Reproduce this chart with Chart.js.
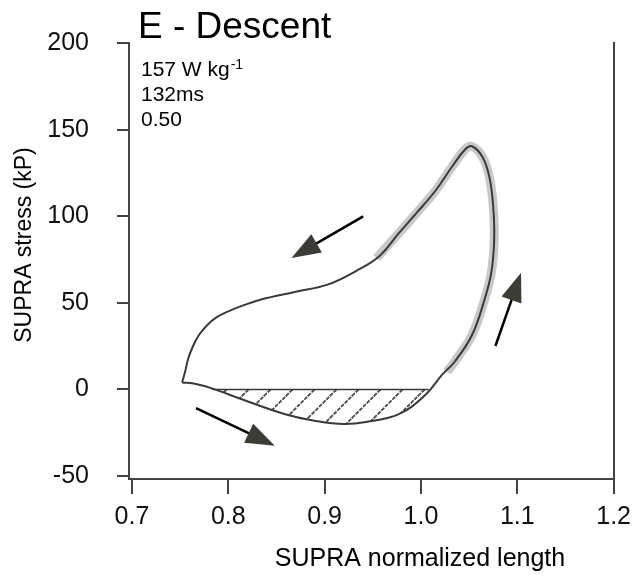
<!DOCTYPE html>
<html>
<head>
<meta charset="utf-8">
<script src="https://cdn.jsdelivr.net/npm/chart.js@4.4.0/dist/chart.umd.min.js"></script>
<style>
    html, body { margin: 0; padding: 0; background: #fff; }
</style>
</head>
<body>
<canvas id="myChart" width="639" height="575"></canvas>
<script>
// work loop, traced from the shortest length along the bottom, up the right side and back
const loopX = [0.752, 0.764, 0.783, 0.814, 0.859, 0.892, 0.920, 0.943, 0.977, 1.005, 1.022, 1.035, 1.053, 1.066, 1.073, 1.076, 1.075, 1.071, 1.064, 1.053, 1.046, 1.032, 1.015, 0.995, 0.977, 0.957, 0.933, 0.903, 0.869, 0.834, 0.8155, 0.800, 0.788, 0.778, 0.7695, 0.7634, 0.7583, 0.7552, 0.752];
const loopY = [4, 3.4, 0.6, -5.7, -14.3, -18.3, -20, -18.8, -14.3, -2.9, 8.6, 16, 31.4, 51.9, 67.4, 86.2, 105.6, 122.7, 134.1, 140.4, 138.7, 128.4, 114.7, 101.6, 90.2, 77.1, 68.5, 60.5, 56.3, 51.9, 48.5, 45.1, 41.7, 37.1, 31.4, 25.1, 17.7, 10.3, 4];

// grey highlighted part of the loop
const highlightX = [1.027, 1.035, 1.053, 1.066, 1.073, 1.076, 1.075, 1.071, 1.064, 1.053, 1.046, 1.032, 1.015, 0.995, 0.977, 0.954];
const highlightY = [10.3, 16, 31.4, 51.9, 67.4, 86.2, 105.6, 122.7, 134.1, 140.4, 138.7, 128.4, 114.7, 101.6, 90.2, 75.9];

// hatched negative work area (below zero)
const hatchX = [0.783, 0.814, 0.859, 0.892, 0.920, 0.943, 0.977, 1.008];
const hatchY = [0, -5.7, -14.3, -18.3, -20, -18.8, -14.3, 0];
const zeroX = [0.783, 1.008];
const zeroY = [0, 0];

// direction arrows: tail -> tip
const arrowX0 = [0.940, 0.7665, 1.0773];
const arrowY0 = [99.9, -10.8, 25.1];
const arrowX1 = [0.8656, 0.8483, 1.1039];
const arrowY1 = [75.9, -32.5, 67.4];

const xTicks = [0.7, 0.8, 0.9, 1.0, 1.1, 1.2];
const yTicks = [-50, 0, 50, 100, 150, 200];

const titleText = 'E - Descent';
const noteLines = ['157 W kg', '132ms', '0.50'];
const xTitle = 'SUPRA normalized length';
const yTitle = 'SUPRA stress (kP)';

const FONT = '"Liberation Sans", Arial, sans-serif';
const INK = '#3a3a36';

function pts(xs, ys) {
    return xs.map((v, i) => ({x: v, y: ys[i]}));
}

function hatchPattern() {
    const s = 22;
    const c = document.createElement('canvas');
    c.width = s; c.height = s;
    const g = c.getContext('2d');
    g.strokeStyle = '#4a4a4a';
    g.lineWidth = 1.8;
    g.setLineDash([4, 1.2]);
    g.beginPath();
    g.moveTo(0, s); g.lineTo(s, 0);
    g.moveTo(-2, 2); g.lineTo(2, -2);
    g.moveTo(s - 2, s + 2); g.lineTo(s + 2, s - 2);
    g.stroke();
    return g.createPattern(c, 'repeat');
}

const overlay = {
    id: 'overlay',
    afterDatasetsDraw(chart) {
        const {ctx, scales: {x, y}} = chart;
        ctx.save();
        for (let i = 0; i < arrowX0.length; i++) {
            const x0 = x.getPixelForValue(arrowX0[i]), y0 = y.getPixelForValue(arrowY0[i]);
            const x1 = x.getPixelForValue(arrowX1[i]), y1 = y.getPixelForValue(arrowY1[i]);
            const len = Math.hypot(x1 - x0, y1 - y0);
            const ux = (x1 - x0) / len, uy = (y1 - y0) / len;
            const bx = x1 - ux * 29, by = y1 - uy * 29;
            ctx.strokeStyle = '#000';
            ctx.lineWidth = 2.5;
            ctx.beginPath();
            ctx.moveTo(x0, y0);
            ctx.lineTo(bx + ux * 4, by + uy * 4);
            ctx.stroke();
            ctx.fillStyle = '#3c3c37';
            ctx.beginPath();
            ctx.moveTo(x1, y1);
            ctx.lineTo(bx - uy * 10.5, by + ux * 10.5);
            ctx.lineTo(bx + uy * 10.5, by - ux * 10.5);
            ctx.closePath();
            ctx.fill();
        }
        ctx.restore();
    },
    afterDraw(chart) {
        const ctx = chart.ctx;
        ctx.save();
        ctx.fillStyle = '#000';
        ctx.textBaseline = 'alphabetic';

        ctx.font = '37px ' + FONT;
        ctx.fillText(titleText, 138, 38);

        ctx.font = '21px ' + FONT;
        ctx.fillText(noteLines[0], 141, 76);
        const w = ctx.measureText(noteLines[0]).width;
        ctx.font = '14px ' + FONT;
        ctx.fillText('-1', 142 + w, 69);
        ctx.font = '21px ' + FONT;
        ctx.fillText(noteLines[1], 141, 101);
        ctx.fillText(noteLines[2], 141, 126);

        ctx.font = '25px ' + FONT;
        ctx.textAlign = 'center';
        ctx.fillText(xTitle, 420, 566);

        ctx.translate(31, 245);
        ctx.rotate(-Math.PI / 2);
        ctx.font = '23px ' + FONT;
        ctx.fillText(yTitle, 0, 0);
        ctx.restore();
    }
};

const tickFont = {family: FONT, size: 25};

let ctx = document.getElementById('myChart');
let myChart = new Chart(ctx, {
    type: 'scatter',
    data: {
        datasets: [{
            data: pts(loopX, loopY),
            showLine: true,
            borderColor: INK,
            borderWidth: 2,
            tension: 0.4,
            pointRadius: 0,
            order: 1
        }, {
            data: pts(zeroX, zeroY),
            showLine: true,
            borderColor: INK,
            borderWidth: 1.5,
            pointRadius: 0,
            order: 2
        }, {
            data: pts(hatchX, hatchY),
            showLine: true,
            borderWidth: 0,
            borderColor: 'rgba(0,0,0,0)',
            backgroundColor: hatchPattern(),
            fill: {value: 0},
            tension: 0.4,
            pointRadius: 0,
            order: 3
        }, {
            data: pts(highlightX, highlightY),
            showLine: true,
            borderColor: '#c9c9c9',
            borderWidth: 9,
            borderCapStyle: 'butt',
            tension: 0.4,
            pointRadius: 0,
            order: 4
        }]
    },
    options: {
        responsive: false,
        animation: false,
        devicePixelRatio: 1,
        layout: {
            padding: {top: 38, left: 0, right: 0, bottom: 0}
        },
        scales: {
            x: {
                type: 'linear',
                min: 0.6969,
                max: 1.2,
                afterBuildTicks: axis => { axis.ticks = xTicks.map(v => ({value: v})); },
                afterFit: axis => { axis.height = 96; },
                grid: {drawOnChartArea: false, drawTicks: true, tickLength: 15, color: '#444', lineWidth: 2},
                border: {display: true, color: '#444', width: 2},
                ticks: {
                    font: tickFont,
                    color: '#111',
                    padding: 8,
                    maxRotation: 0,
                    autoSkip: false,
                    callback: v => Number(v).toFixed(1)
                }
            },
            y: {
                type: 'linear',
                min: -51.7,
                max: 200,
                afterBuildTicks: axis => { axis.ticks = yTicks.map(v => ({value: v})); },
                afterFit: axis => { axis.width = 129; },
                grid: {drawOnChartArea: false, drawTicks: true, tickLength: 12, color: '#444', lineWidth: 2},
                border: {display: true, color: '#444', width: 2},
                ticks: {
                    font: tickFont,
                    color: '#111',
                    padding: 28,
                    autoSkip: false,
                    callback: v => String(v)
                }
            },
            y2: {
                type: 'linear',
                position: 'right',
                min: -51.7,
                max: 200,
                afterFit: axis => { axis.width = 18; },
                grid: {display: false, drawTicks: false},
                border: {display: true, color: '#444', width: 2},
                ticks: {display: false}
            }
        },
        plugins: {
            legend: {display: false},
            tooltip: {enabled: false}
        }
    },
    plugins: [overlay]
});
</script>
</body>
</html>
